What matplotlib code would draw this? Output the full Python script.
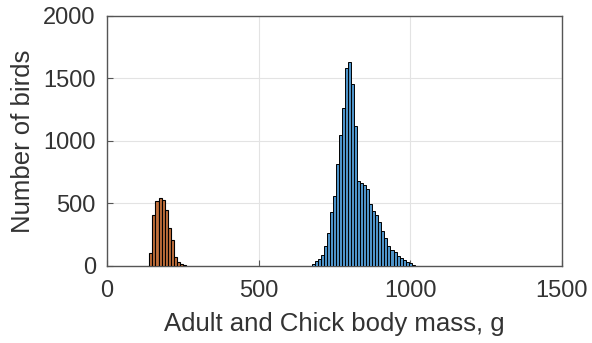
import matplotlib
matplotlib.use("Agg")
import matplotlib.pyplot as plt
import numpy as np

plt.rcParams['font.family'] = ['Liberation Sans', 'DejaVu Sans']

bin_width = 10
chick_start = 140
chick_counts = [102, 410, 517, 544, 530, 450, 303, 209, 75, 35, 16, 6]
adult_start = 675
adult_counts = [14, 40, 54, 88, 160, 262, 431, 562, 819, 1044, 1266, 1580, 1633,
                 1459, 1119, 677, 664, 650, 615, 498, 436, 410, 351, 281, 227,
                 161, 128, 110, 83, 62, 48, 30, 21, 8]

xticks = [0, 500, 1000, 1500]
yticks = [0, 500, 1000, 1500, 2000]

fig = plt.figure(figsize=(5.92, 3.43), dpi=100)
ax = fig.add_axes([0.1807, 0.2245, 0.949 - 0.1807, 0.9534 - 0.2245])

chick_edges = chick_start + bin_width * np.arange(len(chick_counts))
adult_edges = adult_start + bin_width * np.arange(len(adult_counts))

ax.bar(chick_edges, chick_counts, width=bin_width, align='edge',
       color='#C2703C', edgecolor='black', linewidth=0.8, zorder=3)
ax.bar(adult_edges, adult_counts, width=bin_width, align='edge',
       color='#4E93C8', edgecolor='black', linewidth=0.7, zorder=3)

ax.set_xlim(0, 1500)
ax.set_ylim(0, 2000)
ax.set_xticks(xticks)
ax.set_yticks(yticks)
ax.grid(True, color='#e3e3e3', linewidth=0.8, zorder=0)
ax.set_axisbelow(True)
for s in ax.spines.values():
    s.set_color('#555555')
    s.set_linewidth(1.0)
ax.tick_params(direction='in', length=4, colors='#555555', labelcolor='#333333',
               labelsize=17, top=False, right=False)
ax.tick_params(axis='x', pad=10)
ax.tick_params(axis='y', pad=8)
ax.set_xlabel('Adult and Chick body mass, g', fontsize=18.5, color='#333333', labelpad=7)
ax.set_ylabel('Number of birds', fontsize=18.5, color='#333333', labelpad=6)

fig.savefig('out.png', dpi=100)
